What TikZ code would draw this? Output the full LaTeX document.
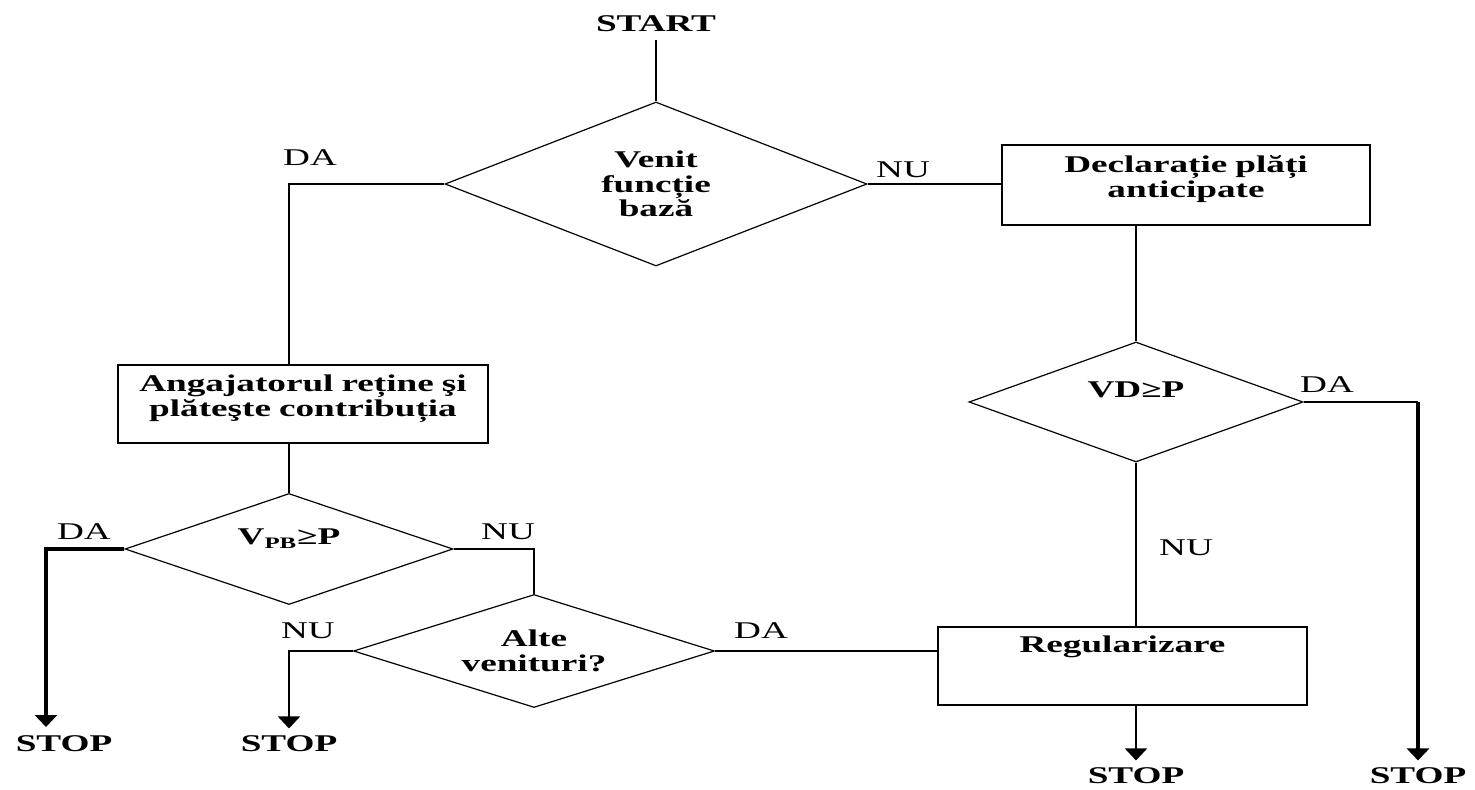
\documentclass[tikz,border=0pt]{standalone}
\usepackage{fontspec}
\setmainfont{Liberation Serif}[FakeStretch=1.55]
\usetikzlibrary{shapes.geometric,arrows.meta}

\begin{document}
\begin{tikzpicture}
[x=0.5pt,y=-0.5pt,>={Triangle[width=11pt,length=6pt]},line width=0.8pt,
 font=\fontsize{12}{12.5}\selectfont]
  \tikzstyle{decision}=[diamond,draw,line width=0.6pt,aspect=3,inner sep=0pt,align=center,font=\fontsize{12}{12.2}\selectfont\bfseries]
  \tikzstyle{block}=[rectangle,draw,line width=1pt,inner sep=0pt,align=center,font=\fontsize{12}{12.5}\selectfont\bfseries]
  \tikzstyle{term}=[font=\fontsize{12}{12.5}\selectfont\bfseries]
  \tikzstyle{thickline}=[line width=1.8pt]

  \useasboundingbox (0,0) rectangle (1475,790);

  \node[term]     (start) at (656,24)  {START};
  \node[decision] (venit) at (656,184) [minimum width=211pt,minimum height=82pt] {Venit\\funcție\\bază};
  \node[block]    (decl)  at (1186,185) [text width=184pt,text height=14pt,text depth=26pt] {Declarație plăți\\anticipate};
  \node[block]    (angaj) at (303,404) [text width=185pt,text height=13.5pt,text depth=25.5pt] {Angajatorul reține şi\\plăteşte contribuția};
  \node[decision] (vpb)   at (289,549) [minimum width=164pt,minimum height=55.5pt,text depth=12pt] {V\textsubscript{PB}≥P};
  \node[decision] (vd)    at (1136,402) [minimum width=167pt,minimum height=60pt,text depth=12pt] {VD≥P};
  \node[decision] (alte)  at (534,651) [minimum width=180.5pt,minimum height=56.5pt] {Alte\\venituri?};
  \node[block]    (regul) at (1122.5,666) [text width=184.5pt,text height=12.5pt,text depth=26.5pt] {Regularizare};

  \node[term] (stopA) at (64,744)   {STOP};
  \node[term] (stopB) at (289,744)  {STOP};
  \node[term] (stopC) at (1136,776) {STOP};
  \node[term] (stopD) at (1418,776) {STOP};

  \node (daVenit) at (310,158)  {DA};
  \node (nuVenit) at (903,170)  {NU};
  \node (daVd)    at (1327,385) {DA};
  \node (nuVd)    at (1186,548) {NU};
  \node (daVpb)   at (84,532)   {DA};
  \node (nuVpb)   at (508,532)  {NU};
  \node (nuAlte)  at (308,631)  {NU};
  \node (daAlte)  at (761,631)  {DA};

  \coordinate (tipA) at (46,727);
  \coordinate (cD) at (vd.east -| stopD.north);

  \draw (start.south) -- (venit.north);
  \draw (venit.west) -| (vpb.north |- angaj.north);
  \draw (vpb.north |- angaj.south) -- (vpb.north);
  \draw (venit.east) -- (venit.east -| decl.west);
  \draw (vd.north |- decl.south) -- (vd.north);
  \draw (vd.south) -- (vd.south |- regul.north);
  \draw[->] (vd.south |- regul.south) -- (stopC.north);
  \draw (vd.east) -- (cD);
  \draw[->,thickline] (cD) -- (stopD.north);
  \draw (alte.east) -- (alte.east -| regul.west);
  \draw (vpb.east) -| (alte.north);
  \draw[->] (alte.west) -| (stopB.north);
  \draw[->,thickline] (vpb.west) -| (tipA);
\end{tikzpicture}
\end{document}
